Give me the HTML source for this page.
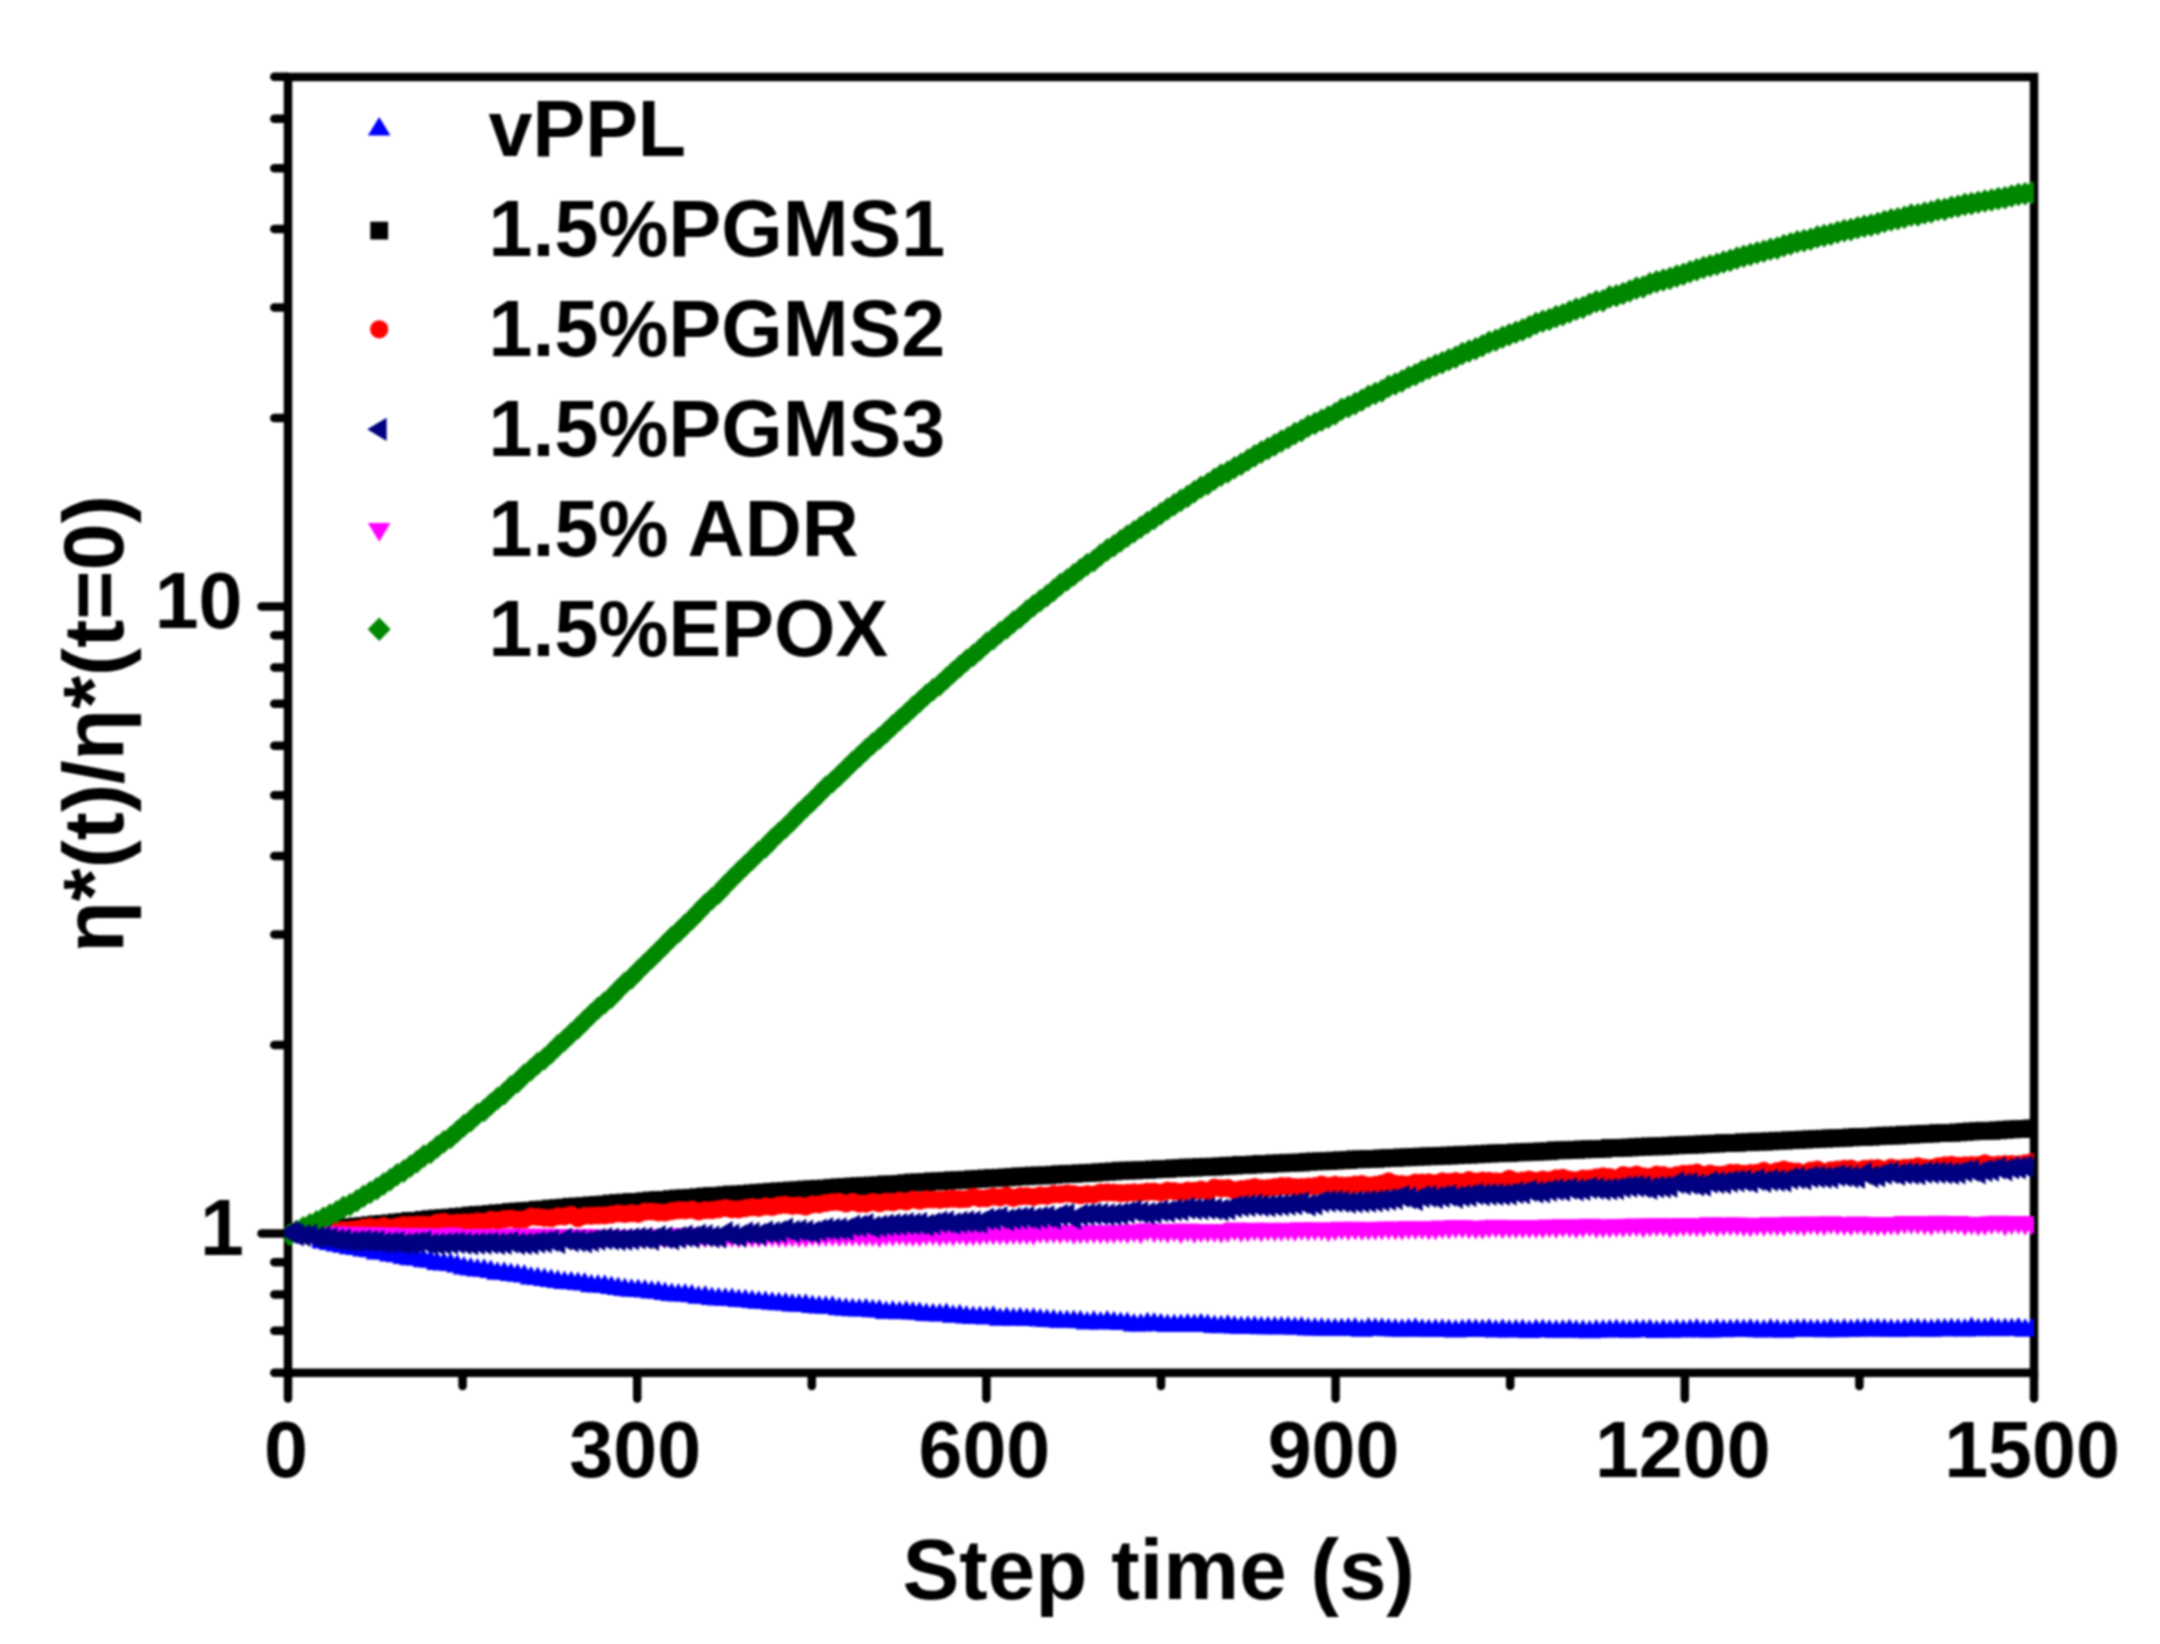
<!DOCTYPE html>
<html lang="en"><head><meta charset="utf-8"><title>Step time viscosity chart</title>
<style>html,body{margin:0;padding:0;background:#fff}body{width:2160px;height:1644px;overflow:hidden}svg{display:block;filter:blur(0.8px)}text{font-family:"Liberation Sans",sans-serif;font-weight:bold;fill:#000}.tk{font-size:79px}.lg{font-size:79px}.ti{font-size:85.4px}</style></head><body>
<svg width="2160" height="1644" viewBox="0 0 2160 1644">
<rect width="2160" height="1644" fill="#fff"/>
<defs>
<marker id="m-blue" markerUnits="userSpaceOnUse" markerWidth="30" markerHeight="30" viewBox="-15 -15 30 30" refX="0" refY="0" orient="0" overflow="visible"><g fill="#00f"><path d="M0-12.3 11.3 6.2H-11.3Z"/></g></marker>
<g id="s-blue" fill="#00f"><path d="M0-12.3 11.3 6.2H-11.3Z"/></g>
<marker id="m-black" markerUnits="userSpaceOnUse" markerWidth="30" markerHeight="30" viewBox="-15 -15 30 30" refX="0" refY="0" orient="0" overflow="visible"><g fill="#000"><rect x="-8.9" y="-8.9" width="17.8" height="17.8"/></g></marker>
<g id="s-black" fill="#000"><rect x="-8.9" y="-8.9" width="17.8" height="17.8"/></g>
<marker id="m-red" markerUnits="userSpaceOnUse" markerWidth="30" markerHeight="30" viewBox="-15 -15 30 30" refX="0" refY="0" orient="0" overflow="visible"><g fill="#f00"><circle r="9.1"/></g></marker>
<g id="s-red" fill="#f00"><circle r="9.1"/></g>
<marker id="m-magenta" markerUnits="userSpaceOnUse" markerWidth="30" markerHeight="30" viewBox="-15 -15 30 30" refX="0" refY="0" orient="0" overflow="visible"><g fill="#f0f"><path d="M0 12.4 11.3-6.4H-11.3Z"/></g></marker>
<g id="s-magenta" fill="#f0f"><path d="M0 12.4 11.3-6.4H-11.3Z"/></g>
<marker id="m-green" markerUnits="userSpaceOnUse" markerWidth="30" markerHeight="30" viewBox="-15 -15 30 30" refX="0" refY="0" orient="0" overflow="visible"><g fill="#008700"><path d="M0-11.8 11.5 0 0 11.8-11.5 0Z"/></g></marker>
<g id="s-green" fill="#008700"><path d="M0-11.8 11.5 0 0 11.8-11.5 0Z"/></g>
<marker id="m-navy" markerUnits="userSpaceOnUse" markerWidth="30" markerHeight="30" viewBox="-15 -15 30 30" refX="0" refY="0" orient="0" overflow="visible"><g fill="#000080"><path d="M-12 0 7.4-11.6V11.6Z"/></g></marker>
<g id="s-navy" fill="#000080"><path d="M-12 0 7.4-11.6V11.6Z"/></g>
<clipPath id="cp"><rect x="284.6" y="60" width="1749.4" height="1330"/></clipPath>
<clipPath id="cpa"><rect x="290" y="60" width="1744" height="1330"/></clipPath>
<clipPath id="cpb"><rect x="312" y="60" width="1722" height="1330"/></clipPath>
</defs>
<g stroke="#000" stroke-width="8.5" fill="none" stroke-linecap="butt">
<rect x="288" y="77" width="1746" height="1295.8"/>
</g>
<path d="M261.5 1233.6H287M261.5 606.6H287M274.3 1372.7H287M274.3 1330.7H287M274.3 1294.4H287M274.3 1262.3H287M274.3 1044.9H287M274.3 934.4H287M274.3 856.1H287M274.3 795.3H287M274.3 745.7H287M274.3 703.7H287M274.3 667.4H287M274.3 635.3H287M274.3 417.9H287M274.3 307.4H287M274.3 229.1H287M274.3 168.3H287M274.3 118.7H287M274.3 76.7H287M288.0 1373.8V1398.5M637.2 1373.8V1398.5M986.4 1373.8V1398.5M1335.6 1373.8V1398.5M1684.8 1373.8V1398.5M2034.0 1373.8V1398.5M462.6 1373.8V1386M811.8 1373.8V1386M1161.0 1373.8V1386M1510.2 1373.8V1386M1859.4 1373.8V1386" stroke="#000" stroke-width="8.5" stroke-linecap="round" fill="none"/>
<g clip-path="url(#cpb)"><polyline id="p-blue" fill="none" stroke="none" marker-start="url(#m-blue)" marker-mid="url(#m-blue)" marker-end="url(#m-blue)" points="296.5,1237.1 303.2,1238.7 309.9,1240.0 316.6,1241.6 323.3,1242.4 330.0,1243.7 336.7,1245.4 343.4,1246.6 350.1,1248.1 356.8,1248.9 363.5,1250.2 370.2,1251.0 376.9,1253.3 383.6,1253.4 390.3,1255.2 397.0,1256.0 403.7,1257.7 410.4,1259.0 417.1,1259.2 423.8,1261.0 430.5,1261.5 437.2,1263.9 443.9,1264.3 450.6,1264.9 457.3,1266.4 464.0,1268.2 470.7,1269.4 477.4,1270.3 484.1,1270.6 490.8,1271.8 497.5,1273.6 504.2,1273.6 510.9,1274.7 517.6,1275.5 524.3,1276.3 531.0,1278.2 537.7,1278.9 544.4,1279.7 551.1,1280.7 557.8,1281.8 564.5,1282.8 571.2,1283.1 577.9,1283.8 584.6,1284.3 591.3,1286.0 598.0,1286.2 604.7,1286.6 611.4,1287.8 618.1,1288.7 624.8,1289.8 631.5,1290.6 638.2,1290.7 644.9,1291.4 651.6,1292.3 658.3,1292.6 665.0,1293.8 671.7,1294.7 678.4,1295.2 685.1,1295.2 691.8,1296.0 698.5,1297.6 705.2,1297.4 711.9,1298.7 718.6,1299.3 725.3,1299.5 732.0,1299.8 738.7,1300.9 745.4,1301.0 752.1,1301.9 758.8,1302.6 765.5,1302.8 772.2,1303.6 778.9,1304.1 785.6,1304.2 792.3,1305.2 799.0,1305.5 805.7,1305.6 812.4,1306.7 819.1,1307.2 825.8,1307.6 832.5,1307.5 839.2,1309.1 845.9,1309.5 852.6,1310.0 859.3,1310.3 866.0,1310.1 872.7,1311.1 879.4,1311.2 886.1,1312.8 892.8,1312.2 899.5,1313.1 906.2,1312.6 912.9,1313.2 919.6,1313.8 926.3,1314.7 933.0,1315.1 939.7,1315.4 946.4,1314.9 953.1,1316.5 959.8,1316.0 966.5,1317.4 973.2,1317.8 979.9,1317.8 986.6,1318.2 993.3,1317.6 1000.0,1319.5 1006.7,1318.9 1013.4,1319.5 1020.1,1319.1 1026.8,1319.8 1033.5,1319.6 1040.2,1320.3 1046.9,1320.7 1053.6,1321.1 1060.3,1321.8 1067.0,1321.8 1073.7,1321.9 1080.4,1322.1 1087.1,1323.2 1093.8,1322.4 1100.5,1323.4 1107.2,1322.4 1113.9,1323.1 1120.6,1323.8 1127.3,1323.8 1134.0,1325.3 1140.7,1325.4 1147.4,1324.0 1154.1,1324.4 1160.8,1325.0 1167.5,1325.9 1174.2,1325.9 1180.9,1325.8 1187.6,1325.3 1194.3,1325.7 1201.0,1325.1 1207.7,1325.8 1214.4,1326.8 1221.1,1327.1 1227.8,1326.4 1234.5,1327.2 1241.2,1327.9 1247.9,1327.5 1254.6,1327.5 1261.3,1328.0 1268.0,1328.1 1274.7,1328.1 1281.4,1328.0 1288.1,1328.1 1294.8,1328.5 1301.5,1328.4 1308.2,1329.2 1314.9,1329.2 1321.6,1329.4 1328.3,1329.9 1335.0,1329.8 1341.7,1329.8 1348.4,1329.5 1355.1,1329.4 1361.8,1330.5 1368.5,1329.4 1375.2,1329.5 1381.9,1329.5 1388.6,1330.0 1395.3,1330.2 1402.0,1330.5 1408.7,1330.1 1415.4,1329.6 1422.1,1330.5 1428.8,1330.8 1435.5,1330.5 1442.2,1330.5 1448.9,1330.8 1455.6,1331.2 1462.3,1330.7 1469.0,1330.2 1475.7,1330.6 1482.4,1330.8 1489.1,1330.2 1495.8,1331.2 1502.5,1330.6 1509.2,1331.2 1515.9,1331.1 1522.6,1330.9 1529.3,1331.7 1536.0,1330.9 1542.7,1330.9 1549.4,1331.3 1556.1,1331.5 1562.8,1331.2 1569.5,1330.8 1576.2,1331.5 1582.9,1331.5 1589.6,1332.1 1596.3,1331.2 1603.0,1331.3 1609.7,1331.0 1616.4,1330.7 1623.1,1331.3 1629.8,1331.6 1636.5,1330.9 1643.2,1331.0 1649.9,1330.8 1656.6,1331.8 1663.3,1331.0 1670.0,1331.5 1676.7,1330.9 1683.4,1331.2 1690.1,1330.9 1696.8,1330.2 1703.5,1331.2 1710.2,1331.4 1716.9,1330.3 1723.6,1331.0 1730.3,1330.9 1737.0,1330.6 1743.7,1330.9 1750.4,1330.2 1757.1,1331.1 1763.8,1331.4 1770.5,1330.4 1777.2,1330.9 1783.9,1331.5 1790.6,1330.9 1797.3,1330.6 1804.0,1330.4 1810.7,1330.8 1817.4,1330.7 1824.1,1331.0 1830.8,1330.1 1837.5,1331.1 1844.2,1330.4 1850.9,1330.8 1857.6,1330.2 1864.3,1330.0 1871.0,1330.2 1877.7,1330.1 1884.4,1330.3 1891.1,1330.6 1897.8,1330.8 1904.5,1330.4 1911.2,1330.1 1917.9,1330.1 1924.6,1330.4 1931.3,1330.6 1938.0,1330.0 1944.7,1330.1 1951.4,1329.8 1958.1,1330.1 1964.8,1330.4 1971.5,1328.8 1978.2,1330.0 1984.9,1329.7 1991.6,1329.0 1998.3,1330.0 2005.0,1329.8 2011.7,1329.9 2018.4,1329.2 2025.1,1330.6 2031.8,1329.8 2036.0,1329.6"/></g>
<g clip-path="url(#cpa)">
<polyline id="p-black" fill="none" stroke="none" marker-start="url(#m-black)" marker-mid="url(#m-black)" marker-end="url(#m-black)" points="296.5,1232.8 303.2,1231.7 309.9,1231.4 316.6,1230.8 323.3,1229.9 330.0,1229.1 336.7,1228.6 343.4,1227.8 350.1,1227.3 356.8,1226.5 363.5,1226.0 370.2,1225.2 376.9,1224.4 383.6,1223.9 390.3,1223.3 397.0,1222.5 403.7,1221.9 410.4,1220.9 417.1,1220.8 423.8,1219.9 430.5,1219.1 437.2,1218.5 443.9,1218.1 450.6,1217.6 457.3,1216.9 464.0,1216.4 470.7,1215.5 477.4,1214.9 484.1,1214.6 490.8,1214.0 497.5,1213.3 504.2,1212.9 510.9,1212.0 517.6,1211.5 524.3,1211.1 531.0,1210.7 537.7,1209.8 544.4,1209.5 551.1,1208.6 557.8,1208.2 564.5,1207.6 571.2,1206.8 577.9,1206.5 584.6,1206.1 591.3,1205.4 598.0,1204.9 604.7,1204.5 611.4,1203.6 618.1,1203.0 624.8,1202.6 631.5,1202.0 638.2,1201.9 644.9,1201.2 651.6,1200.5 658.3,1200.1 665.0,1200.1 671.7,1199.1 678.4,1198.5 685.1,1198.2 691.8,1197.8 698.5,1197.2 705.2,1196.5 711.9,1196.0 718.6,1195.8 725.3,1195.2 732.0,1194.5 738.7,1194.5 745.4,1193.9 752.1,1193.3 758.8,1192.8 765.5,1192.4 772.2,1191.8 778.9,1191.3 785.6,1191.1 792.3,1190.4 799.0,1190.2 805.7,1189.5 812.4,1189.2 819.1,1188.8 825.8,1188.6 832.5,1187.8 839.2,1187.3 845.9,1187.0 852.6,1186.5 859.3,1186.1 866.0,1185.8 872.7,1185.5 879.4,1185.2 886.1,1184.4 892.8,1184.5 899.5,1184.0 906.2,1183.2 912.9,1182.5 919.6,1182.4 926.3,1182.1 933.0,1181.3 939.7,1181.3 946.4,1180.8 953.1,1180.3 959.8,1180.2 966.5,1179.8 973.2,1179.2 979.9,1178.9 986.6,1178.4 993.3,1178.0 1000.0,1177.8 1006.7,1177.4 1013.4,1176.9 1020.1,1176.3 1026.8,1176.3 1033.5,1175.6 1040.2,1175.5 1046.9,1175.4 1053.6,1174.8 1060.3,1174.2 1067.0,1173.8 1073.7,1173.8 1080.4,1173.3 1087.1,1173.0 1093.8,1172.7 1100.5,1172.2 1107.2,1171.8 1113.9,1171.4 1120.6,1170.7 1127.3,1170.6 1134.0,1170.5 1140.7,1170.1 1147.4,1169.9 1154.1,1169.4 1160.8,1169.1 1167.5,1168.9 1174.2,1168.3 1180.9,1168.1 1187.6,1167.5 1194.3,1167.6 1201.0,1167.1 1207.7,1166.8 1214.4,1166.7 1221.1,1166.3 1227.8,1165.8 1234.5,1165.6 1241.2,1164.9 1247.9,1164.9 1254.6,1164.5 1261.3,1163.9 1268.0,1164.0 1274.7,1163.4 1281.4,1163.3 1288.1,1162.8 1294.8,1162.7 1301.5,1162.5 1308.2,1161.8 1314.9,1161.4 1321.6,1161.3 1328.3,1161.1 1335.0,1160.6 1341.7,1160.3 1348.4,1160.1 1355.1,1159.3 1361.8,1159.3 1368.5,1158.9 1375.2,1158.9 1381.9,1158.4 1388.6,1158.1 1395.3,1157.9 1402.0,1157.4 1408.7,1157.3 1415.4,1156.9 1422.1,1156.6 1428.8,1156.3 1435.5,1156.2 1442.2,1155.8 1448.9,1155.6 1455.6,1155.3 1462.3,1154.8 1469.0,1154.7 1475.7,1154.4 1482.4,1154.0 1489.1,1153.6 1495.8,1153.3 1502.5,1153.2 1509.2,1153.1 1515.9,1152.4 1522.6,1152.3 1529.3,1151.9 1536.0,1151.7 1542.7,1151.4 1549.4,1151.2 1556.1,1150.3 1562.8,1150.3 1569.5,1150.0 1576.2,1149.8 1582.9,1149.4 1589.6,1149.2 1596.3,1149.1 1603.0,1148.9 1609.7,1147.9 1616.4,1148.0 1623.1,1147.8 1629.8,1147.5 1636.5,1147.1 1643.2,1146.7 1649.9,1146.4 1656.6,1146.4 1663.3,1146.2 1670.0,1145.7 1676.7,1145.3 1683.4,1145.1 1690.1,1144.8 1696.8,1144.6 1703.5,1144.2 1710.2,1143.8 1716.9,1143.6 1723.6,1143.1 1730.3,1143.1 1737.0,1142.9 1743.7,1142.2 1750.4,1142.2 1757.1,1141.6 1763.8,1141.7 1770.5,1141.3 1777.2,1140.8 1783.9,1140.7 1790.6,1140.2 1797.3,1139.9 1804.0,1139.6 1810.7,1139.3 1817.4,1139.0 1824.1,1138.7 1830.8,1138.3 1837.5,1138.2 1844.2,1137.9 1850.9,1137.4 1857.6,1136.9 1864.3,1137.0 1871.0,1136.7 1877.7,1136.2 1884.4,1135.7 1891.1,1135.6 1897.8,1135.5 1904.5,1134.7 1911.2,1134.7 1917.9,1134.2 1924.6,1133.8 1931.3,1133.7 1938.0,1133.1 1944.7,1133.0 1951.4,1132.9 1958.1,1132.4 1964.8,1131.9 1971.5,1131.4 1978.2,1131.1 1984.9,1130.7 1991.6,1130.9 1998.3,1130.3 2005.0,1129.8 2011.7,1129.4 2018.4,1129.1 2025.1,1128.9 2031.8,1128.4 2036.0,1128.6"/>
<polyline id="p-red" fill="none" stroke="none" marker-start="url(#m-red)" marker-mid="url(#m-red)" marker-end="url(#m-red)" points="296.5,1232.4 303.2,1231.9 309.9,1232.4 316.6,1233.0 323.3,1232.4 330.0,1230.3 336.7,1230.5 343.4,1230.0 350.1,1229.9 356.8,1229.2 363.5,1227.7 370.2,1226.9 376.9,1227.8 383.6,1226.1 390.3,1228.0 397.0,1226.4 403.7,1225.0 410.4,1225.2 417.1,1224.6 423.8,1224.6 430.5,1225.1 437.2,1222.6 443.9,1221.8 450.6,1223.4 457.3,1222.5 464.0,1222.4 470.7,1222.3 477.4,1221.3 484.1,1221.8 490.8,1219.9 497.5,1220.3 504.2,1219.2 510.9,1218.5 517.6,1219.7 524.3,1219.3 531.0,1216.6 537.7,1217.0 544.4,1217.9 551.1,1218.2 557.8,1216.3 564.5,1216.4 571.2,1214.9 577.9,1218.1 584.6,1215.9 591.3,1215.9 598.0,1215.4 604.7,1215.3 611.4,1214.6 618.1,1213.4 624.8,1214.0 631.5,1213.1 638.2,1213.9 644.9,1211.7 651.6,1211.5 658.3,1212.3 665.0,1212.5 671.7,1211.2 678.4,1210.1 685.1,1210.3 691.8,1209.6 698.5,1211.4 705.2,1210.2 711.9,1210.2 718.6,1209.1 725.3,1208.0 732.0,1209.2 738.7,1209.3 745.4,1208.1 752.1,1207.2 758.8,1207.9 765.5,1206.3 772.2,1207.0 778.9,1205.4 785.6,1204.9 792.3,1205.9 799.0,1205.4 805.7,1206.6 812.4,1204.3 819.1,1204.3 825.8,1203.0 832.5,1202.0 839.2,1201.8 845.9,1203.5 852.6,1201.8 859.3,1203.6 866.0,1203.6 872.7,1201.8 879.4,1203.2 886.1,1201.7 892.8,1202.2 899.5,1200.7 906.2,1201.5 912.9,1199.5 919.6,1200.7 926.3,1199.4 933.0,1199.5 939.7,1199.9 946.4,1199.2 953.1,1198.7 959.8,1199.2 966.5,1199.0 973.2,1196.8 979.9,1198.3 986.6,1198.1 993.3,1196.6 1000.0,1197.4 1006.7,1195.6 1013.4,1197.8 1020.1,1196.1 1026.8,1196.0 1033.5,1196.9 1040.2,1195.4 1046.9,1195.9 1053.6,1194.1 1060.3,1194.3 1067.0,1193.3 1073.7,1194.2 1080.4,1195.1 1087.1,1194.1 1093.8,1194.5 1100.5,1192.5 1107.2,1192.4 1113.9,1192.5 1120.6,1193.2 1127.3,1192.8 1134.0,1192.3 1140.7,1192.6 1147.4,1191.7 1154.1,1191.6 1160.8,1192.5 1167.5,1190.6 1174.2,1191.1 1180.9,1192.1 1187.6,1190.6 1194.3,1190.9 1201.0,1189.5 1207.7,1191.6 1214.4,1187.6 1221.1,1188.3 1227.8,1188.2 1234.5,1190.4 1241.2,1189.0 1247.9,1188.3 1254.6,1187.1 1261.3,1188.4 1268.0,1188.0 1274.7,1187.0 1281.4,1186.1 1288.1,1186.2 1294.8,1187.2 1301.5,1187.1 1308.2,1186.6 1314.9,1186.2 1321.6,1184.6 1328.3,1186.0 1335.0,1184.8 1341.7,1185.6 1348.4,1185.7 1355.1,1184.5 1361.8,1184.0 1368.5,1185.6 1375.2,1184.8 1381.9,1183.7 1388.6,1181.4 1395.3,1183.8 1402.0,1184.2 1408.7,1184.5 1415.4,1182.6 1422.1,1182.5 1428.8,1182.4 1435.5,1183.4 1442.2,1181.4 1448.9,1182.1 1455.6,1181.2 1462.3,1182.0 1469.0,1180.2 1475.7,1181.7 1482.4,1180.7 1489.1,1180.8 1495.8,1181.3 1502.5,1181.6 1509.2,1178.8 1515.9,1181.1 1522.6,1180.5 1529.3,1179.5 1536.0,1180.8 1542.7,1179.5 1549.4,1180.3 1556.1,1178.4 1562.8,1177.9 1569.5,1179.6 1576.2,1180.3 1582.9,1178.7 1589.6,1178.7 1596.3,1177.3 1603.0,1176.3 1609.7,1177.1 1616.4,1178.4 1623.1,1175.2 1629.8,1176.2 1636.5,1174.7 1643.2,1176.3 1649.9,1176.8 1656.6,1174.7 1663.3,1175.2 1670.0,1176.6 1676.7,1175.1 1683.4,1173.9 1690.1,1173.6 1696.8,1172.7 1703.5,1175.0 1710.2,1173.5 1716.9,1174.9 1723.6,1174.5 1730.3,1172.9 1737.0,1172.8 1743.7,1173.8 1750.4,1173.0 1757.1,1172.9 1763.8,1170.9 1770.5,1173.0 1777.2,1171.2 1783.9,1169.7 1790.6,1171.0 1797.3,1171.7 1804.0,1173.0 1810.7,1170.5 1817.4,1169.5 1824.1,1172.3 1830.8,1170.3 1837.5,1169.7 1844.2,1168.8 1850.9,1168.6 1857.6,1170.6 1864.3,1168.8 1871.0,1168.4 1877.7,1168.1 1884.4,1169.8 1891.1,1167.6 1897.8,1168.5 1904.5,1167.9 1911.2,1167.7 1917.9,1166.4 1924.6,1167.6 1931.3,1168.2 1938.0,1166.4 1944.7,1165.4 1951.4,1164.8 1958.1,1165.9 1964.8,1165.3 1971.5,1165.2 1978.2,1165.0 1984.9,1163.4 1991.6,1165.2 1998.3,1164.5 2005.0,1164.0 2011.7,1164.0 2018.4,1164.4 2025.1,1163.3 2031.8,1162.2 2036.0,1163.9"/>
<polyline id="p-magenta" fill="none" stroke="none" marker-start="url(#m-magenta)" marker-mid="url(#m-magenta)" marker-end="url(#m-magenta)" points="296.5,1231.6 303.2,1232.1 309.9,1232.7 316.6,1232.3 323.3,1232.4 330.0,1232.8 336.7,1232.7 343.4,1233.8 350.1,1233.2 356.8,1234.2 363.5,1234.4 370.2,1233.5 376.9,1234.2 383.6,1234.1 390.3,1233.8 397.0,1234.4 403.7,1234.5 410.4,1235.1 417.1,1235.3 423.8,1234.4 430.5,1234.8 437.2,1235.4 443.9,1235.8 450.6,1234.0 457.3,1236.0 464.0,1235.3 470.7,1236.2 477.4,1235.3 484.1,1235.2 490.8,1235.6 497.5,1236.3 504.2,1235.7 510.9,1234.6 517.6,1236.1 524.3,1235.0 531.0,1235.4 537.7,1235.3 544.4,1235.0 551.1,1235.3 557.8,1235.5 564.5,1235.7 571.2,1236.0 577.9,1235.9 584.6,1235.3 591.3,1235.9 598.0,1236.5 604.7,1236.5 611.4,1236.1 618.1,1236.3 624.8,1236.5 631.5,1236.7 638.2,1236.8 644.9,1235.8 651.6,1235.8 658.3,1236.7 665.0,1236.7 671.7,1236.7 678.4,1234.7 685.1,1235.7 691.8,1234.2 698.5,1236.2 705.2,1235.8 711.9,1235.7 718.6,1235.6 725.3,1236.3 732.0,1235.5 738.7,1236.1 745.4,1235.8 752.1,1235.7 758.8,1235.7 765.5,1235.4 772.2,1234.8 778.9,1235.6 785.6,1235.6 792.3,1235.1 799.0,1235.5 805.7,1235.5 812.4,1234.4 819.1,1234.9 825.8,1234.7 832.5,1234.4 839.2,1234.9 845.9,1234.3 852.6,1234.4 859.3,1234.7 866.0,1234.7 872.7,1234.6 879.4,1235.5 886.1,1234.1 892.8,1234.4 899.5,1233.6 906.2,1234.4 912.9,1234.6 919.6,1234.6 926.3,1233.6 933.0,1233.7 939.7,1234.4 946.4,1233.7 953.1,1234.1 959.8,1233.1 966.5,1234.2 973.2,1233.9 979.9,1233.6 986.6,1232.9 993.3,1233.1 1000.0,1233.2 1006.7,1233.2 1013.4,1232.9 1020.1,1232.8 1026.8,1232.9 1033.5,1233.4 1040.2,1231.6 1046.9,1231.9 1053.6,1231.7 1060.3,1232.0 1067.0,1231.4 1073.7,1232.5 1080.4,1232.2 1087.1,1231.9 1093.8,1231.6 1100.5,1232.0 1107.2,1231.9 1113.9,1231.9 1120.6,1231.3 1127.3,1231.9 1134.0,1230.7 1140.7,1232.0 1147.4,1229.7 1154.1,1230.9 1160.8,1230.5 1167.5,1231.4 1174.2,1230.2 1180.9,1231.8 1187.6,1230.0 1194.3,1231.7 1201.0,1230.8 1207.7,1230.5 1214.4,1230.6 1221.1,1231.4 1227.8,1230.7 1234.5,1229.0 1241.2,1230.6 1247.9,1230.1 1254.6,1229.1 1261.3,1230.2 1268.0,1229.1 1274.7,1229.7 1281.4,1229.6 1288.1,1229.1 1294.8,1229.7 1301.5,1228.7 1308.2,1229.2 1314.9,1228.8 1321.6,1228.9 1328.3,1229.8 1335.0,1228.8 1341.7,1228.2 1348.4,1228.6 1355.1,1228.1 1361.8,1228.5 1368.5,1228.4 1375.2,1228.3 1381.9,1228.2 1388.6,1227.8 1395.3,1228.2 1402.0,1228.4 1408.7,1227.5 1415.4,1227.7 1422.1,1227.7 1428.8,1228.2 1435.5,1228.0 1442.2,1227.0 1448.9,1227.4 1455.6,1226.5 1462.3,1226.7 1469.0,1227.1 1475.7,1227.3 1482.4,1227.4 1489.1,1226.7 1495.8,1226.1 1502.5,1226.9 1509.2,1226.5 1515.9,1226.7 1522.6,1226.5 1529.3,1226.7 1536.0,1226.6 1542.7,1226.6 1549.4,1225.9 1556.1,1226.5 1562.8,1225.7 1569.5,1225.9 1576.2,1226.7 1582.9,1225.9 1589.6,1225.1 1596.3,1226.3 1603.0,1226.0 1609.7,1226.0 1616.4,1225.5 1623.1,1225.5 1629.8,1225.1 1636.5,1224.8 1643.2,1225.9 1649.9,1224.8 1656.6,1224.7 1663.3,1224.7 1670.0,1225.8 1676.7,1225.2 1683.4,1224.5 1690.1,1224.6 1696.8,1224.8 1703.5,1225.0 1710.2,1223.7 1716.9,1224.9 1723.6,1224.2 1730.3,1223.9 1737.0,1224.0 1743.7,1224.6 1750.4,1225.0 1757.1,1224.1 1763.8,1224.3 1770.5,1223.6 1777.2,1224.2 1783.9,1224.3 1790.6,1223.1 1797.3,1223.5 1804.0,1224.1 1810.7,1222.8 1817.4,1223.5 1824.1,1223.9 1830.8,1222.7 1837.5,1223.3 1844.2,1223.5 1850.9,1223.9 1857.6,1222.8 1864.3,1223.9 1871.0,1223.5 1877.7,1223.9 1884.4,1223.9 1891.1,1223.4 1897.8,1223.5 1904.5,1222.3 1911.2,1222.5 1917.9,1222.7 1924.6,1223.0 1931.3,1223.6 1938.0,1222.2 1944.7,1222.9 1951.4,1222.4 1958.1,1222.3 1964.8,1223.8 1971.5,1223.1 1978.2,1223.8 1984.9,1223.6 1991.6,1222.6 1998.3,1222.1 2005.0,1224.0 2011.7,1222.8 2018.4,1222.4 2025.1,1223.3 2031.8,1223.1 2036.0,1222.7"/>
</g>
<g clip-path="url(#cp)">
<polyline id="p-green" fill="none" stroke="none" marker-start="url(#m-green)" marker-mid="url(#m-green)" marker-end="url(#m-green)" points="289.5,1234.6 296.5,1231.4 303.2,1227.7 309.9,1224.9 316.6,1221.9 323.3,1218.2 330.0,1215.1 336.7,1211.7 343.4,1207.4 350.1,1204.8 356.8,1200.8 363.5,1196.3 370.2,1192.5 376.9,1188.6 383.6,1184.1 390.3,1179.7 397.0,1174.8 403.7,1171.1 410.4,1166.3 417.1,1161.6 423.8,1156.1 430.5,1152.5 437.2,1146.9 443.9,1141.7 450.6,1137.5 457.3,1131.5 464.0,1125.6 470.7,1120.7 477.4,1114.5 484.1,1110.4 490.8,1104.3 497.5,1098.5 504.2,1093.6 510.9,1086.8 517.6,1081.9 524.3,1075.0 531.0,1069.7 537.7,1063.6 544.4,1058.7 551.1,1052.8 557.8,1045.9 564.5,1040.3 571.2,1033.7 577.9,1027.9 584.6,1021.1 591.3,1014.5 598.0,1008.2 604.7,1002.8 611.4,997.2 618.1,990.0 624.8,983.3 631.5,977.9 638.2,970.8 644.9,964.3 651.6,957.9 658.3,951.2 665.0,944.6 671.7,937.6 678.4,931.9 685.1,925.1 691.8,919.0 698.5,911.9 705.2,904.7 711.9,898.8 718.6,893.0 725.3,885.5 732.0,878.8 738.7,872.0 745.4,865.5 752.1,859.3 758.8,852.3 765.5,846.9 772.2,839.6 778.9,833.2 785.6,827.2 792.3,820.8 799.0,813.6 805.7,807.3 812.4,801.0 819.1,794.2 825.8,787.2 832.5,781.8 839.2,775.5 845.9,769.0 852.6,762.2 859.3,756.2 866.0,749.8 872.7,743.8 879.4,738.2 886.1,732.2 892.8,725.8 899.5,719.7 906.2,713.7 912.9,707.4 919.6,701.5 926.3,695.3 933.0,689.7 939.7,684.8 946.4,678.4 953.1,672.2 959.8,666.4 966.5,660.5 973.2,655.4 979.9,649.7 986.6,643.4 993.3,638.6 1000.0,632.7 1006.7,628.0 1013.4,622.1 1020.1,617.3 1026.8,611.1 1033.5,605.8 1040.2,600.8 1046.9,595.8 1053.6,590.4 1060.3,584.6 1067.0,580.0 1073.7,574.9 1080.4,569.7 1087.1,564.6 1093.8,560.7 1100.5,555.0 1107.2,549.9 1113.9,545.8 1120.6,540.9 1127.3,536.1 1134.0,531.8 1140.7,527.2 1147.4,522.6 1154.1,518.4 1160.8,513.7 1167.5,509.0 1174.2,504.7 1180.9,500.4 1187.6,496.4 1194.3,491.7 1201.0,487.3 1207.7,484.0 1214.4,479.3 1221.1,475.1 1227.8,472.0 1234.5,467.7 1241.2,464.2 1247.9,460.0 1254.6,455.9 1261.3,452.1 1268.0,448.6 1274.7,445.0 1281.4,441.1 1288.1,437.7 1294.8,433.6 1301.5,430.6 1308.2,426.3 1314.9,423.5 1321.6,420.3 1328.3,417.1 1335.0,413.9 1341.7,409.2 1348.4,406.8 1355.1,403.6 1361.8,400.2 1368.5,396.2 1375.2,393.5 1381.9,390.9 1388.6,386.4 1395.3,384.0 1402.0,381.1 1408.7,377.3 1415.4,374.8 1422.1,371.1 1428.8,368.2 1435.5,365.2 1442.2,362.7 1448.9,359.7 1455.6,357.2 1462.3,353.6 1469.0,351.1 1475.7,348.7 1482.4,345.8 1489.1,342.3 1495.8,340.3 1502.5,337.2 1509.2,334.8 1515.9,332.2 1522.6,329.9 1529.3,326.9 1536.0,323.5 1542.7,321.2 1549.4,319.5 1556.1,316.6 1562.8,314.7 1569.5,311.9 1576.2,309.1 1582.9,307.5 1589.6,304.3 1596.3,301.5 1603.0,300.8 1609.7,296.9 1616.4,295.7 1623.1,293.5 1629.8,291.0 1636.5,288.1 1643.2,287.0 1649.9,283.8 1656.6,281.7 1663.3,280.0 1670.0,278.4 1676.7,276.1 1683.4,274.3 1690.1,271.7 1696.8,269.8 1703.5,267.5 1710.2,265.8 1716.9,264.3 1723.6,262.0 1730.3,260.4 1737.0,258.1 1743.7,256.2 1750.4,254.6 1757.1,252.7 1763.8,251.2 1770.5,249.3 1777.2,248.1 1783.9,245.6 1790.6,243.9 1797.3,241.8 1804.0,240.6 1810.7,239.2 1817.4,236.9 1824.1,235.6 1830.8,234.3 1837.5,232.3 1844.2,230.6 1850.9,229.6 1857.6,227.7 1864.3,226.3 1871.0,225.1 1877.7,223.6 1884.4,221.5 1891.1,219.9 1897.8,218.8 1904.5,217.2 1911.2,215.1 1917.9,214.9 1924.6,213.0 1931.3,211.9 1938.0,209.8 1944.7,209.4 1951.4,207.3 1958.1,206.2 1964.8,204.4 1971.5,203.6 1978.2,202.3 1984.9,201.0 1991.6,200.0 1998.3,198.6 2005.0,197.7 2011.7,196.0 2018.4,194.5 2025.1,193.7 2031.8,192.8 2036.0,192.3"/>
<polyline id="p-navy" fill="none" stroke="none" marker-start="url(#m-navy)" marker-mid="url(#m-navy)" marker-end="url(#m-navy)" points="290.0,1232.6 293.3,1233.2 296.5,1234.9 303.2,1235.4 309.9,1235.2 316.6,1237.6 323.3,1237.0 330.0,1238.2 336.7,1239.8 343.4,1239.9 350.1,1241.4 356.8,1241.1 363.5,1240.7 370.2,1241.2 376.9,1241.3 383.6,1242.9 390.3,1242.5 397.0,1242.2 403.7,1243.8 410.4,1243.2 417.1,1242.7 423.8,1241.7 430.5,1243.9 437.2,1243.8 443.9,1243.6 450.6,1243.1 457.3,1242.7 464.0,1243.3 470.7,1243.8 477.4,1243.3 484.1,1243.3 490.8,1242.8 497.5,1243.6 504.2,1243.4 510.9,1242.2 517.6,1243.7 524.3,1243.6 531.0,1243.4 537.7,1242.2 544.4,1242.0 551.1,1240.7 557.8,1242.6 564.5,1239.2 571.2,1240.9 577.9,1240.8 584.6,1241.9 591.3,1240.7 598.0,1239.4 604.7,1238.6 611.4,1239.1 618.1,1239.7 624.8,1239.4 631.5,1238.8 638.2,1238.0 644.9,1238.2 651.6,1239.3 658.3,1236.6 665.0,1237.6 671.7,1239.0 678.4,1237.5 685.1,1236.1 691.8,1237.0 698.5,1235.1 705.2,1235.6 711.9,1236.9 718.6,1237.0 725.3,1232.6 732.0,1234.9 738.7,1236.0 745.4,1232.8 752.1,1233.4 758.8,1234.4 765.5,1231.8 772.2,1232.5 778.9,1231.6 785.6,1229.1 792.3,1231.3 799.0,1230.3 805.7,1231.2 812.4,1232.1 819.1,1230.2 825.8,1228.7 832.5,1229.2 839.2,1228.6 845.9,1229.1 852.6,1226.0 859.3,1226.0 866.0,1224.6 872.7,1227.2 879.4,1226.1 886.1,1225.1 892.8,1224.6 899.5,1224.4 906.2,1223.7 912.9,1224.0 919.6,1223.4 926.3,1225.1 933.0,1223.6 939.7,1222.0 946.4,1221.9 953.1,1223.5 959.8,1222.3 966.5,1221.7 973.2,1221.8 979.9,1222.4 986.6,1219.0 993.3,1219.1 1000.0,1217.7 1006.7,1219.8 1013.4,1218.5 1020.1,1217.8 1026.8,1217.3 1033.5,1218.6 1040.2,1217.3 1046.9,1216.5 1053.6,1218.1 1060.3,1215.2 1067.0,1214.6 1073.7,1218.5 1080.4,1214.9 1087.1,1214.3 1093.8,1213.8 1100.5,1214.0 1107.2,1214.7 1113.9,1214.3 1120.6,1213.7 1127.3,1212.5 1134.0,1210.8 1140.7,1212.4 1147.4,1213.4 1154.1,1212.5 1160.8,1210.8 1167.5,1211.5 1174.2,1209.8 1180.9,1209.8 1187.6,1208.2 1194.3,1208.9 1201.0,1209.0 1207.7,1208.3 1214.4,1209.0 1221.1,1209.9 1227.8,1208.9 1234.5,1206.7 1241.2,1205.9 1247.9,1205.6 1254.6,1204.9 1261.3,1205.7 1268.0,1205.8 1274.7,1205.2 1281.4,1204.8 1288.1,1204.4 1294.8,1203.8 1301.5,1202.7 1308.2,1205.1 1314.9,1204.0 1321.6,1201.5 1328.3,1201.2 1335.0,1201.2 1341.7,1201.5 1348.4,1202.5 1355.1,1201.9 1361.8,1201.6 1368.5,1201.3 1375.2,1200.9 1381.9,1200.2 1388.6,1199.5 1395.3,1198.6 1402.0,1196.4 1408.7,1197.9 1415.4,1199.6 1422.1,1196.7 1428.8,1196.3 1435.5,1197.7 1442.2,1196.4 1448.9,1195.4 1455.6,1197.3 1462.3,1195.9 1469.0,1195.7 1475.7,1193.9 1482.4,1194.8 1489.1,1194.3 1495.8,1194.4 1502.5,1194.5 1509.2,1194.1 1515.9,1192.7 1522.6,1192.9 1529.3,1190.6 1536.0,1192.2 1542.7,1191.9 1549.4,1190.4 1556.1,1189.6 1562.8,1190.1 1569.5,1188.5 1576.2,1189.9 1582.9,1189.5 1589.6,1187.8 1596.3,1188.5 1603.0,1189.3 1609.7,1189.0 1616.4,1188.6 1623.1,1187.0 1629.8,1186.5 1636.5,1186.1 1643.2,1186.8 1649.9,1188.4 1656.6,1187.0 1663.3,1186.9 1670.0,1186.3 1676.7,1182.7 1683.4,1184.0 1690.1,1183.4 1696.8,1184.9 1703.5,1185.1 1710.2,1182.2 1716.9,1182.6 1723.6,1182.8 1730.3,1181.4 1737.0,1180.9 1743.7,1180.5 1750.4,1181.9 1757.1,1179.6 1763.8,1181.5 1770.5,1180.1 1777.2,1180.5 1783.9,1181.0 1790.6,1178.3 1797.3,1177.8 1804.0,1178.8 1810.7,1176.9 1817.4,1176.9 1824.1,1177.3 1830.8,1177.3 1837.5,1175.4 1844.2,1176.0 1850.9,1176.8 1857.6,1177.3 1864.3,1173.4 1871.0,1176.6 1877.7,1175.9 1884.4,1173.4 1891.1,1172.7 1897.8,1174.4 1904.5,1173.2 1911.2,1173.5 1917.9,1174.0 1924.6,1172.3 1931.3,1172.6 1938.0,1172.6 1944.7,1172.8 1951.4,1173.4 1958.1,1173.0 1964.8,1171.1 1971.5,1170.3 1978.2,1172.9 1984.9,1170.7 1991.6,1170.1 1998.3,1168.1 2005.0,1169.9 2011.7,1167.9 2018.4,1167.9 2025.1,1166.7 2031.8,1167.3 2036.0,1167.7"/>
</g>
<use href="#s-blue" x="379.2" y="129.3"/>
<text class="lg" x="488.5" y="155.6">vPPL</text>
<use href="#s-black" x="379.2" y="230.6"/>
<text class="lg" x="488.5" y="255.6">1.5%PGMS1</text>
<use href="#s-red" x="379.2" y="329.3"/>
<text class="lg" x="488.5" y="355.6">1.5%PGMS2</text>
<use href="#s-navy" x="379.2" y="429.3"/>
<text class="lg" x="488.5" y="455.6">1.5%PGMS3</text>
<use href="#s-magenta" x="379.2" y="529.3"/>
<text class="lg" x="488.5" y="555.6">1.5% ADR</text>
<use href="#s-green" x="379.2" y="629.3"/>
<text class="lg" x="488.5" y="655.6">1.5%EPOX</text>
<text class="tk" text-anchor="middle" x="286.0" y="1476.5">0</text>
<text class="tk" text-anchor="middle" x="635.2" y="1476.5">300</text>
<text class="tk" text-anchor="middle" x="984.4" y="1476.5">600</text>
<text class="tk" text-anchor="middle" x="1333.6" y="1476.5">900</text>
<text class="tk" text-anchor="middle" x="1682.8" y="1476.5">1200</text>
<text class="tk" text-anchor="middle" x="2032.0" y="1476.5">1500</text>
<text class="tk" text-anchor="end" x="242.5" y="627.5">10</text>
<text class="tk" text-anchor="end" x="244" y="1254.5">1</text>
<text class="ti" text-anchor="middle" x="1158.6" y="1599.4">Step time (s)</text>
<text class="ti" style="font-size:84.5px" text-anchor="middle" transform="translate(123 724) rotate(-90)">η*(t)/η*(t=0)</text>
</svg></body></html>
